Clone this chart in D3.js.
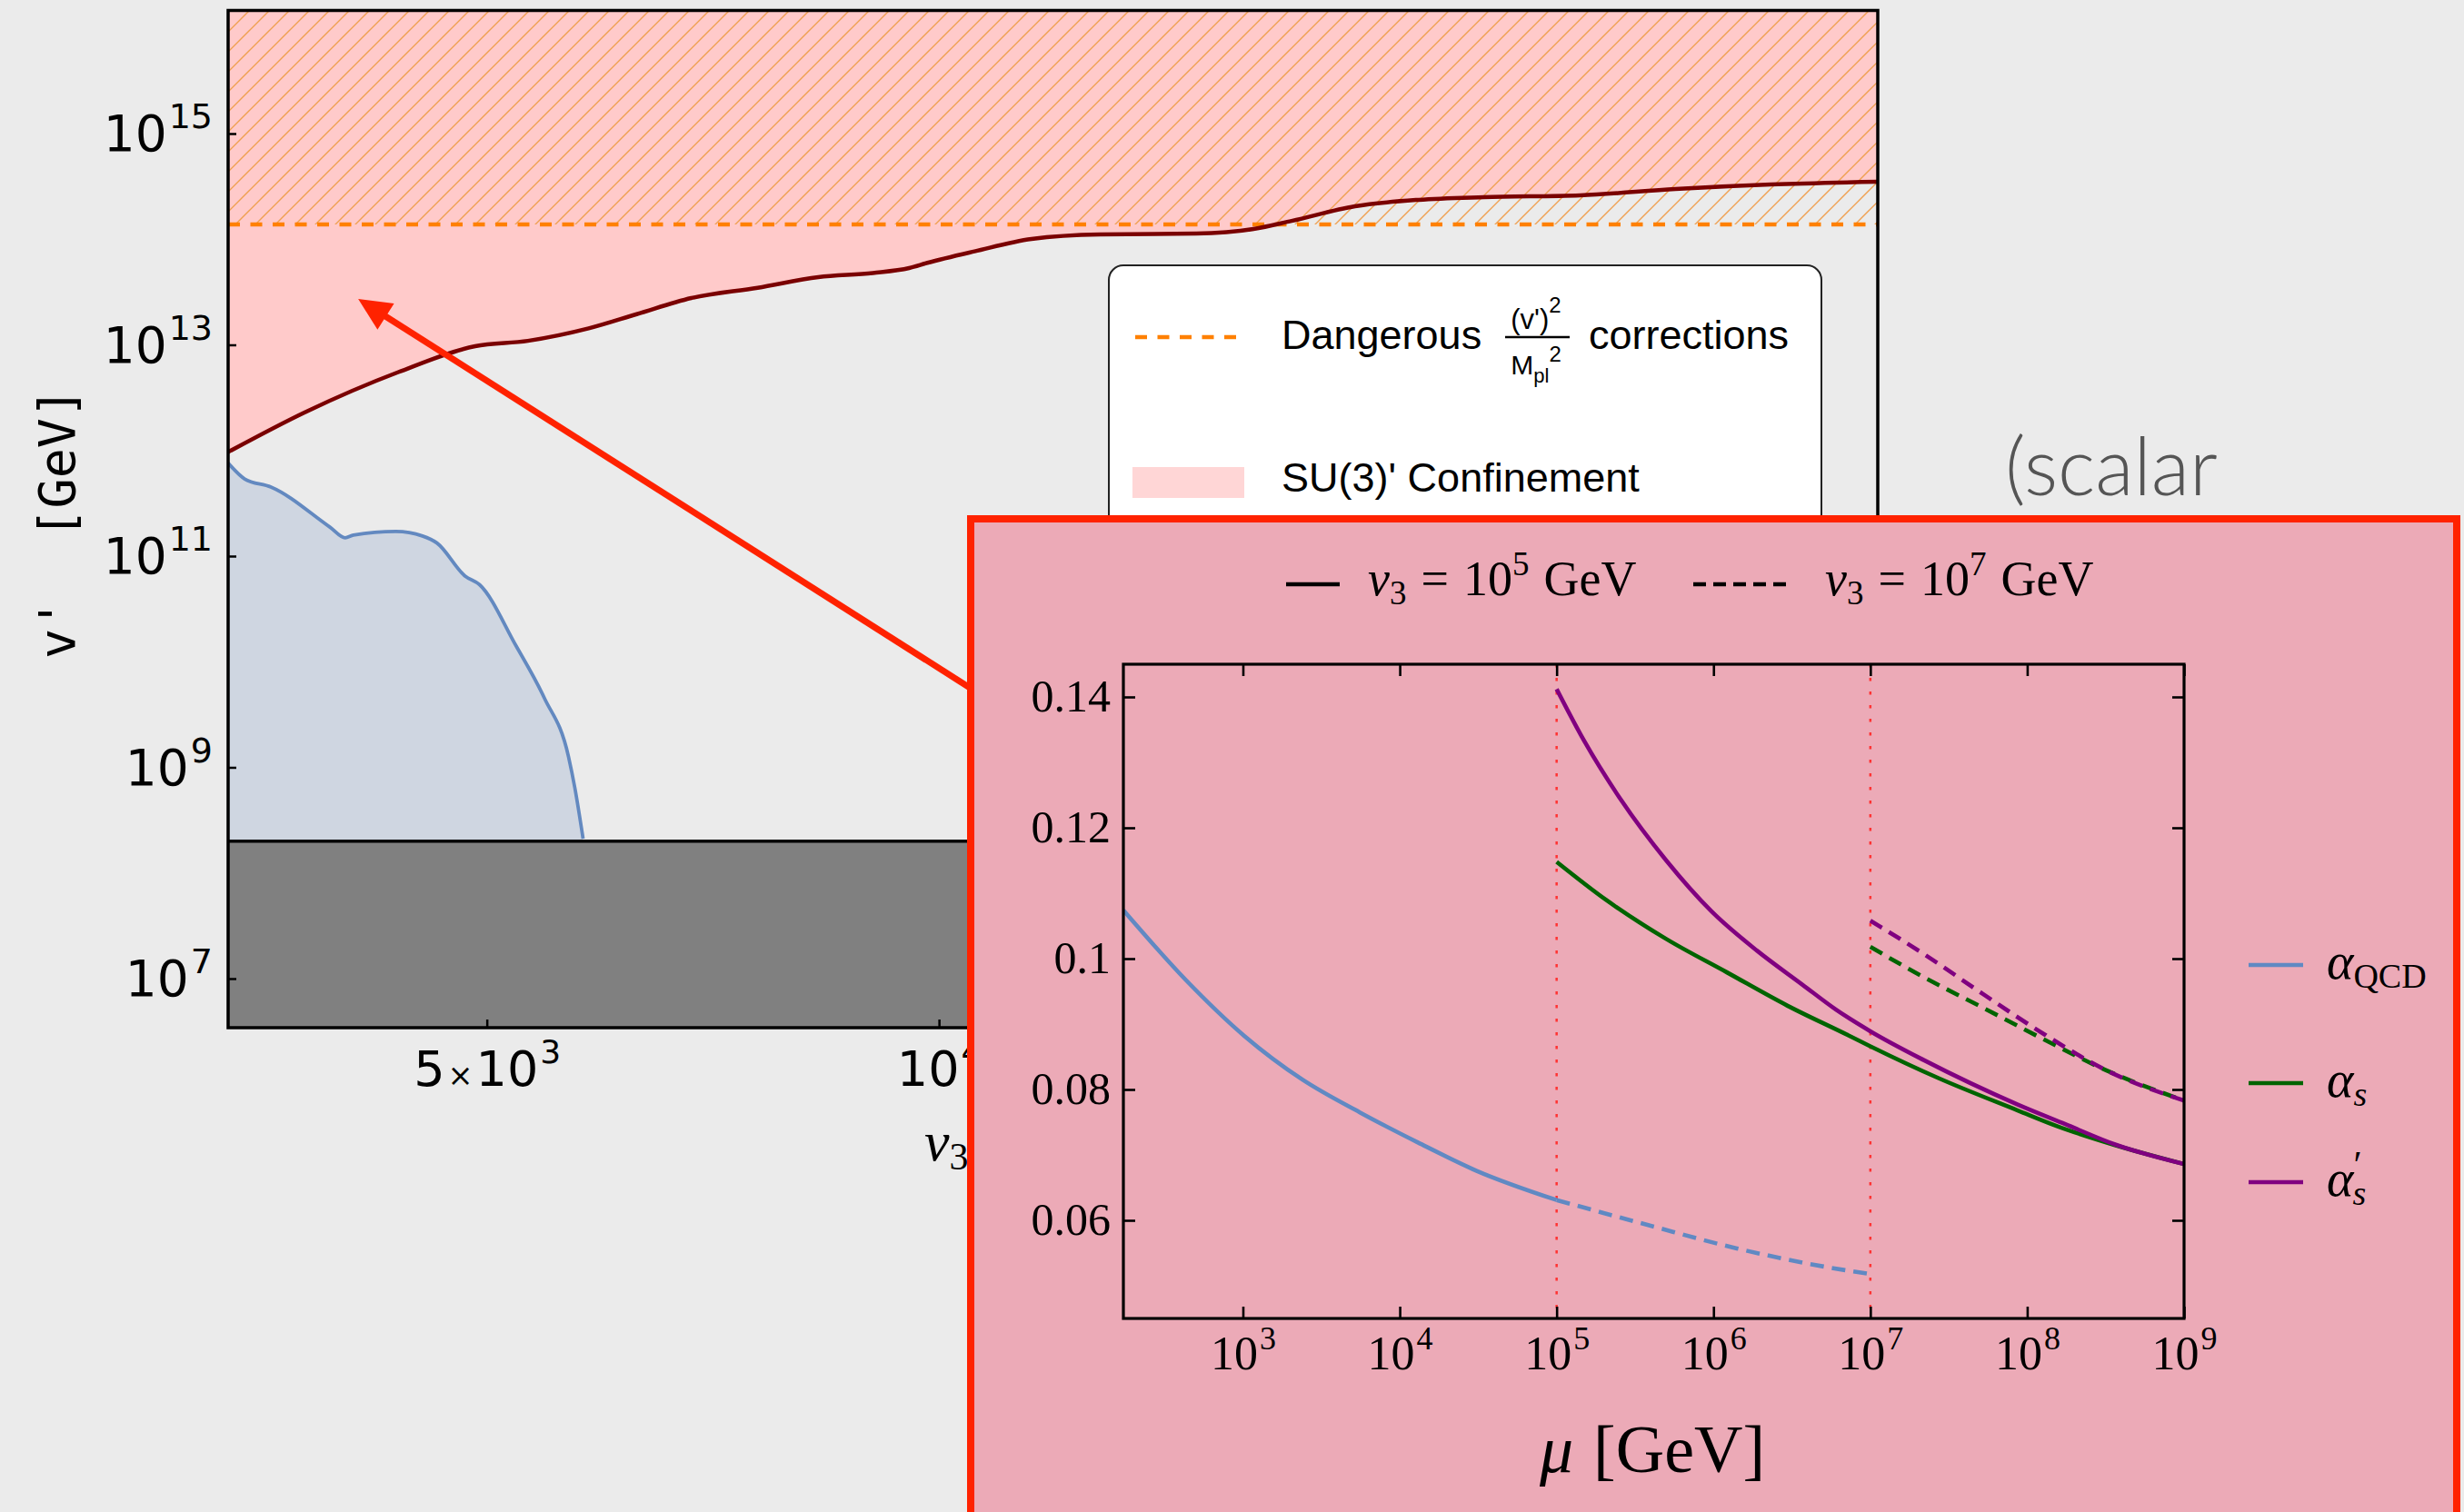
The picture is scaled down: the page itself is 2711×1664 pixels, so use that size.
<!DOCTYPE html>
<html>
<head>
<meta charset="utf-8">
<script src="https://cdn.jsdelivr.net/npm/d3@7"></script>
<style>
  html, body { margin: 0; padding: 0; background: #ebebeb; }
  svg { display: block; }
</style>
</head>
<body>
<svg id="chart" width="2711" height="1664"></svg>
<script>
// ---- main plot : v' vs v3 ----
const mainXDomain = [3363, 42170];
const mainYDomain = [3.43e6, 1.464e16];
const mainXTicks  = [5e3, 1e4, 2e4];
const mainYTicks  = [1e7, 1e9, 1e11, 1e13, 1e15];

// SU(3)' confinement boundary (dark red curve)
const confV3 = [3363, 3786, 4366, 4911, 5324, 5844, 6291, 6840, 7573, 8311, 9036, 9553, 9824, 10560,
                11523, 12800, 14834, 16195, 17170, 18923, 20860, 23050, 26720, 30920, 35790, 42170];
const confVp = [9.66e11, 2.31e12, 5.52e12, 9.70e12, 1.09e13, 1.43e13, 1.95e13, 2.77e13, 3.47e13, 4.38e13, 4.79e13, 5.33e13, 5.97e13, 7.67e13,
                1.005e14, 1.11e14, 1.13e14, 1.25e14, 1.49e14, 2.05e14, 2.36e14, 2.50e14, 2.60e14, 2.99e14, 3.30e14, 3.50e14];

// blue region
const blueV3 = [3363, 3449, 3591, 3931, 4024, 4075, 4350, 4530, 4632, 4836, 4945, 5228, 5460, 5667, 5722, 5795];
const blueVp = [7.60e11, 5.38e11, 4.51e11, 1.88e11, 1.49e11, 1.58e11, 1.71e11, 1.55e11, 1.33e11, 6.47e10, 5.36e10,
                1.42e10, 4.55e9, 1.26e9, 6.40e8, 2.11e8];

const dangerVp   = 1.38e14;   // (v')^2 / Mpl^2 corrections
const excludedVp = 2.0e8;     // gray excluded band top

// arrow annotation (data coords)
const arrowFrom = [10980, 3.73e9];
const arrowTo   = [4105, 2.72e13];

// ---- inset : running couplings ----
const insetXDomain = [173, 1e9];
const insetYDomain = [0.045, 0.145];
const insetXTicks  = [1e3, 1e4, 1e5, 1e6, 1e7, 1e8, 1e9];
const insetYTicks  = [0.06, 0.08, 0.10, 0.12, 0.14];
const insetYLabels = ["0.06", "0.08", "0.1", "0.12", "0.14"];
const thresholds   = [1e5, 1e7];

const qcdMu     = [173, 434, 1019, 2397, 5560, 13060, 30690, 1e5];
const qcdAlpha  = [0.1074, 0.0967, 0.0882, 0.0815, 0.0765, 0.0719, 0.0676, 0.0631];
const qcdMu2    = [1e5, 3.93e5, 1.41e6, 7.71e6, 1e7];
const qcdAlpha2 = [0.0631, 0.0592, 0.0557, 0.0522, 0.0518];

const asMu     = [1e5, 2.06e5, 5.0e5, 1.218e6, 2.965e6, 7.21e6, 1e7, 2.74e7, 8.7e7, 1.55e8, 3.63e8, 1e9];
const asAlpha  = [0.1148, 0.1090, 0.1030, 0.0979, 0.0928, 0.0883, 0.0866, 0.0817, 0.0768, 0.0744, 0.0715, 0.0686];
const apMu     = [1e5, 1.505e5, 2.567e5, 5.0e5, 9.74e5, 1.899e6, 3.70e6, 6.04e6, 1e7, 2.19e7, 8.7e7, 1.75e8, 3.63e8, 1e9];
const apAlpha  = [0.1412, 0.1332, 0.1243, 0.1150, 0.1072, 0.1012, 0.0960, 0.0922, 0.0889, 0.0845, 0.0777, 0.0747, 0.0716, 0.0686];

const asMu2    = [1e7, 2.1e7, 5.22e7, 1.29e8, 3.21e8, 1e9];
const asAlpha2 = [0.1018, 0.0974, 0.0925, 0.0876, 0.0829, 0.0783];
const apMu2    = [1e7, 2.1e7, 5.22e7, 1.29e8, 3.21e8, 1e9];
const apAlpha2 = [0.1058, 0.1010, 0.0946, 0.0884, 0.0829, 0.0783];

const zip = (a, b) => a.map((v, i) => [v, b[i]]);

const svg  = d3.select('#chart');
const defs = svg.append('defs');

function powLabel(text, d, baseSize, supSize, rise) {
  const e = Math.floor(Math.log10(d) + 1e-9);
  const m = Math.round(d / Math.pow(10, e));
  text.text(null);
  if (m !== 1) {
    text.append('tspan').attr('font-size', baseSize).text(m);
    text.append('tspan').attr('font-size', baseSize * 0.62).attr('dx', 3).text('×');
  }
  text.append('tspan').attr('font-size', baseSize).attr('dx', m !== 1 ? 3 : 0).text('10');
  text.append('tspan').attr('font-size', supSize).attr('dx', 2).attr('dy', -rise).text(e);
}

// ================= main plot =================
const L = 251, R = 2066, T = 11.5, B = 1131;
const mx = d3.scaleLog().domain(mainXDomain).range([L, R]);
const my = d3.scaleLog().domain(mainYDomain).range([B, T]);

defs.append('clipPath').attr('id', 'mainClip')
  .append('rect').attr('x', L).attr('y', T).attr('width', R - L).attr('height', B - T);

const hatch = defs.append('pattern').attr('id', 'hatch')
  .attr('patternUnits', 'userSpaceOnUse').attr('width', 22).attr('height', 22);
hatch.append('path')
  .attr('d', 'M-5.5,5.5 L5.5,-5.5 M0,22 L22,0 M16.5,27.5 L27.5,16.5')
  .attr('stroke', '#efa050').attr('stroke-width', 1.4).attr('fill', 'none');

const main = svg.append('g').attr('clip-path', 'url(#mainClip)');
const conf = zip(confV3, confVp);
const blue = zip(blueV3, blueVp);

// confinement region
main.append('path')
  .attr('fill', '#ffcaca')
  .attr('d', d3.area().x(d => mx(d[0])).y0(T).y1(d => my(d[1])).curve(d3.curveMonotoneX)(conf));

// blue region
main.append('path')
  .attr('fill', '#cfd6e1')
  .attr('d', d3.area().x(d => mx(d[0])).y0(B).y1(d => my(d[1])).curve(d3.curveMonotoneX)(blue));
main.append('path')
  .attr('fill', 'none').attr('stroke', '#6389c0').attr('stroke-width', 3.8)
  .attr('d', d3.line().x(d => mx(d[0])).y(d => my(d[1])).curve(d3.curveMonotoneX)(blue));

// hatched region above the dangerous-corrections line
main.append('rect')
  .attr('x', L).attr('y', T).attr('width', R - L).attr('height', my(dangerVp) - T)
  .attr('fill', 'url(#hatch)');

main.append('path')
  .attr('fill', 'none').attr('stroke', '#ff8000').attr('stroke-width', 4.5)
  .attr('stroke-dasharray', '13,11.5')
  .attr('d', d3.line().x(d => mx(d[0])).y(d => my(d[1]))([[mainXDomain[0], dangerVp], [mainXDomain[1], dangerVp]]));

main.append('path')
  .attr('fill', 'none').attr('stroke', '#7a0000').attr('stroke-width', 4.5)
  .attr('d', d3.line().x(d => mx(d[0])).y(d => my(d[1])).curve(d3.curveMonotoneX)(conf));

// excluded gray band
main.append('rect')
  .attr('x', L).attr('y', my(excludedVp)).attr('width', R - L).attr('height', B - my(excludedVp))
  .attr('fill', '#808080');
main.append('line')
  .attr('x1', L).attr('x2', R).attr('y1', my(excludedVp)).attr('y2', my(excludedVp))
  .attr('stroke', '#000').attr('stroke-width', 3.5);

// frame
svg.append('rect')
  .attr('x', L).attr('y', T).attr('width', R - L).attr('height', B - T)
  .attr('fill', 'none').attr('stroke', '#000').attr('stroke-width', 3.5);

// axes
const yAx = svg.append('g').attr('transform', `translate(${L},0)`)
  .call(d3.axisLeft(my).tickValues(mainYTicks).tickSizeInner(-9).tickSizeOuter(0).tickPadding(17));
yAx.select('.domain').remove();
yAx.selectAll('.tick line').attr('stroke-width', 2.5);
yAx.selectAll('.tick text')
  .attr('font-family', '"DejaVu Sans", sans-serif').attr('fill', '#000')
  .attr('dy', 19).attr('text-anchor', 'end')
  .each(function (d) { powLabel(d3.select(this), d, 55, 38, 25); });
yAx.attr('font-size', null).attr('font-family', null);

const xAx = svg.append('g').attr('transform', `translate(0,${B})`)
  .call(d3.axisBottom(mx).tickValues(mainXTicks).tickSizeInner(-9).tickSizeOuter(0).tickPadding(0));
xAx.select('.domain').remove();
xAx.selectAll('.tick line').attr('stroke-width', 2.5);
xAx.selectAll('.tick text')
  .attr('font-family', '"DejaVu Sans", sans-serif').attr('fill', '#000')
  .attr('y', 64).attr('dy', 0)
  .each(function (d) { powLabel(d3.select(this), d, 54, 36, 25); });
xAx.attr('font-size', null).attr('font-family', null);

// axis titles
svg.append('text')
  .attr('transform', 'translate(82,576) rotate(-90)')
  .attr('text-anchor', 'middle')
  .attr('font-family', '"DejaVu Sans Mono", monospace').attr('font-size', 55)
  .attr('xml:space', 'preserve')
  .text("v'  [GeV]");

const xt = svg.append('text').attr('x', 1017).attr('y', 1277)
  .attr('font-family', '"Liberation Serif", serif').attr('font-size', 62);
xt.append('tspan').attr('font-style', 'italic').text('v');
xt.append('tspan').attr('font-size', 42).attr('dy', 10).text('3');
xt.append('tspan').attr('dy', -10).text(' [GeV]');

// legend box
const sans = '"Liberation Sans", Arial, sans-serif';
const lg = svg.append('g');
lg.append('rect')
  .attr('x', 1220).attr('y', 292).attr('width', 784).attr('height', 440).attr('rx', 16)
  .attr('fill', '#fff').attr('stroke', '#222').attr('stroke-width', 2);
lg.append('line')
  .attr('x1', 1249).attr('x2', 1365).attr('y1', 371).attr('y2', 371)
  .attr('stroke', '#ff8000').attr('stroke-width', 4.5).attr('stroke-dasharray', '13,11.5');
lg.append('text').attr('x', 1410).attr('y', 384)
  .attr('font-family', sans).attr('font-size', 45)
  .text('Dangerous');
const num = lg.append('text').attr('x', 1690).attr('y', 362).attr('text-anchor', 'middle')
  .attr('font-family', sans).attr('font-size', 31);
num.append('tspan').text("(v')");
num.append('tspan').attr('font-size', 24).attr('dy', -18).text('2');
lg.append('line').attr('x1', 1656).attr('x2', 1727).attr('y1', 371).attr('y2', 371)
  .attr('stroke', '#000').attr('stroke-width', 2.5);
const den = lg.append('text').attr('x', 1690).attr('y', 412).attr('text-anchor', 'middle')
  .attr('font-family', sans).attr('font-size', 30);
den.append('tspan').text('M');
den.append('tspan').attr('font-size', 22).attr('dy', 9).text('pl');
den.append('tspan').attr('font-size', 24).attr('dy', -23).text('2');
lg.append('text').attr('x', 1748).attr('y', 384)
  .attr('font-family', sans).attr('font-size', 45)
  .text('corrections');
lg.append('rect').attr('x', 1246).attr('y', 514).attr('width', 123).attr('height', 34)
  .attr('fill', '#ffd6d6');
lg.append('text').attr('x', 1410).attr('y', 541)
  .attr('font-family', sans).attr('font-size', 45)
  .text("SU(3)' Confinement");

// slide text
svg.append('text').attr('x', 2206).attr('y', 545)
  .attr('font-family', 'Lato, "Open Sans", sans-serif').attr('font-weight', 300)
  .attr('font-size', 88).attr('fill', '#555')
  .attr('textLength', 234).attr('lengthAdjust', 'spacingAndGlyphs')
  .text('(scalar');

// arrow
const ax0 = mx(arrowFrom[0]), ay0 = my(arrowFrom[1]);
const ax1 = mx(arrowTo[0]),   ay1 = my(arrowTo[1]);
const alen = Math.hypot(ax0 - ax1, ay0 - ay1);
const ux = (ax0 - ax1) / alen, uy = (ay0 - ay1) / alen;
const hl = 36, hw = 17;
const bx = ax1 + ux * hl, by = ay1 + uy * hl;
svg.append('line')
  .attr('x1', ax0).attr('y1', ay0).attr('x2', bx - ux * 2).attr('y2', by - uy * 2)
  .attr('stroke', '#ff2200').attr('stroke-width', 7);
svg.append('path')
  .attr('fill', '#ff2200')
  .attr('d', `M${ax1},${ay1} L${bx - uy * hw},${by + ux * hw} L${bx + uy * hw},${by - ux * hw} Z`);

// ================= inset =================
svg.append('rect')
  .attr('x', 1068).attr('y', 571).attr('width', 1635).attr('height', 1200)
  .attr('fill', '#ecaab7').attr('stroke', '#ff2200').attr('stroke-width', 8);

const iL = 1236, iR = 2403, iT = 731, iB = 1451;
const ix = d3.scaleLog().domain(insetXDomain).range([iL, iR]);
const iy = d3.scaleLinear().domain(insetYDomain).range([iB, iT]);
const serif = '"Liberation Serif", "Times New Roman", serif';

defs.append('clipPath').attr('id', 'insetClip')
  .append('rect').attr('x', iL).attr('y', iT).attr('width', iR - iL).attr('height', iB - iT);
const ins = svg.append('g').attr('clip-path', 'url(#insetClip)');

// thresholds
thresholds.forEach(t => {
  ins.append('line')
    .attr('x1', ix(t)).attr('x2', ix(t)).attr('y1', iT).attr('y2', iB)
    .attr('stroke', '#ff3333').attr('stroke-width', 2.5).attr('stroke-dasharray', '3.5,11.5');
});

const iline = d3.line().x(d => ix(d[0])).y(d => iy(d[1])).curve(d3.curveMonotoneX);
const curves = [
  { mu: qcdMu2, a: qcdAlpha2, color: '#6089c3', dash: '15,9' },
  { mu: asMu2,  a: asAlpha2,  color: '#006400', dash: '15,9' },
  { mu: apMu2,  a: apAlpha2,  color: '#800080', dash: '15,9' },
  { mu: qcdMu,  a: qcdAlpha,  color: '#6089c3', dash: null },
  { mu: asMu,   a: asAlpha,   color: '#006400', dash: null },
  { mu: apMu,   a: apAlpha,   color: '#800080', dash: null }
];
curves.forEach(c => {
  ins.append('path')
    .attr('fill', 'none').attr('stroke', c.color).attr('stroke-width', 4.6)
    .attr('stroke-dasharray', c.dash)
    .attr('d', iline(zip(c.mu, c.a)));
});

// inset frame and ticks
svg.append('rect')
  .attr('x', iL).attr('y', iT).attr('width', iR - iL).attr('height', iB - iT)
  .attr('fill', 'none').attr('stroke', '#000').attr('stroke-width', 3.2);

function styleTicks(g) {
  g.select('.domain').remove();
  g.selectAll('.tick line').attr('stroke', '#000').attr('stroke-width', 2.6);
  g.attr('font-size', null).attr('font-family', null);
}
const ibx = svg.append('g').attr('transform', `translate(0,${iB})`)
  .call(d3.axisBottom(ix).tickValues(insetXTicks).tickSizeInner(-13).tickSizeOuter(0));
styleTicks(ibx);
ibx.selectAll('.tick text')
  .attr('font-family', serif).attr('fill', '#000').attr('y', 56).attr('dy', 0)
  .each(function (d) { powLabel(d3.select(this), d, 52, 36, 22); });
const itx = svg.append('g').attr('transform', `translate(0,${iT})`)
  .call(d3.axisTop(ix).tickValues(insetXTicks).tickSizeInner(-13).tickSizeOuter(0).tickFormat(''));
styleTicks(itx);
const ily = svg.append('g').attr('transform', `translate(${iL},0)`)
  .call(d3.axisLeft(iy).tickValues(insetYTicks).tickSizeInner(-13).tickSizeOuter(0).tickPadding(14)
    .tickFormat((d, i) => insetYLabels[i]));
styleTicks(ily);
ily.selectAll('.tick text')
  .attr('font-family', serif).attr('font-size', 50).attr('fill', '#000').attr('dy', 15);
const iry = svg.append('g').attr('transform', `translate(${iR},0)`)
  .call(d3.axisRight(iy).tickValues(insetYTicks).tickSizeInner(-13).tickSizeOuter(0).tickFormat(''));
styleTicks(iry);

// x title
const mu = svg.append('text').attr('x', 1818).attr('y', 1620).attr('text-anchor', 'middle')
  .attr('font-family', serif).attr('font-size', 74);
mu.append('tspan').attr('font-style', 'italic').text('μ');
mu.append('tspan').attr('dx', 22).text('[GeV]');

// top legend
function v3Label(x, exp) {
  const t = svg.append('text').attr('x', x).attr('y', 655)
    .attr('font-family', serif).attr('font-size', 54);
  t.append('tspan').attr('font-style', 'italic').text('v');
  t.append('tspan').attr('font-size', 37).attr('dy', 10).text('3');
  t.append('tspan').attr('dy', -10).attr('dx', 16).text('=');
  t.append('tspan').attr('dx', 16).text('10');
  t.append('tspan').attr('font-size', 37).attr('dy', -22).text(exp);
  t.append('tspan').attr('dy', 22).attr('dx', 16).text('GeV');
}
svg.append('line').attr('x1', 1415).attr('x2', 1474).attr('y1', 643).attr('y2', 643)
  .attr('stroke', '#000').attr('stroke-width', 4.5);
v3Label(1505, Math.log10(thresholds[0]));
svg.append('line').attr('x1', 1863).attr('x2', 1971).attr('y1', 643).attr('y2', 643)
  .attr('stroke', '#000').attr('stroke-width', 4.5).attr('stroke-dasharray', '14,8');
v3Label(2008, Math.log10(thresholds[1]));

// right legend
const legendItems = [
  { color: '#6089c3', y: 1062, sub: 'QCD', subItalic: false, prime: false },
  { color: '#006400', y: 1192, sub: 's',   subItalic: true,  prime: false },
  { color: '#800080', y: 1301, sub: 's',   subItalic: true,  prime: true }
];
legendItems.forEach(it => {
  svg.append('line').attr('x1', 2474).attr('x2', 2534).attr('y1', it.y).attr('y2', it.y)
    .attr('stroke', it.color).attr('stroke-width', 4.6);
  const t = svg.append('text').attr('x', 2560).attr('y', it.y + 15)
    .attr('font-family', serif).attr('font-size', 56);
  t.append('tspan').attr('font-style', 'italic').text('α');
  if (it.prime) {
    t.append('tspan').attr('font-size', 42).attr('dy', -20).text('′');
    t.append('tspan').attr('font-size', 38).attr('font-style', 'italic').attr('dx', -10).attr('dy', 30).text(it.sub);
  } else {
    t.append('tspan').attr('font-size', 38).attr('font-style', it.subItalic ? 'italic' : 'normal')
      .attr('dy', 10).text(it.sub);
  }
});
</script>
</body>
</html>
